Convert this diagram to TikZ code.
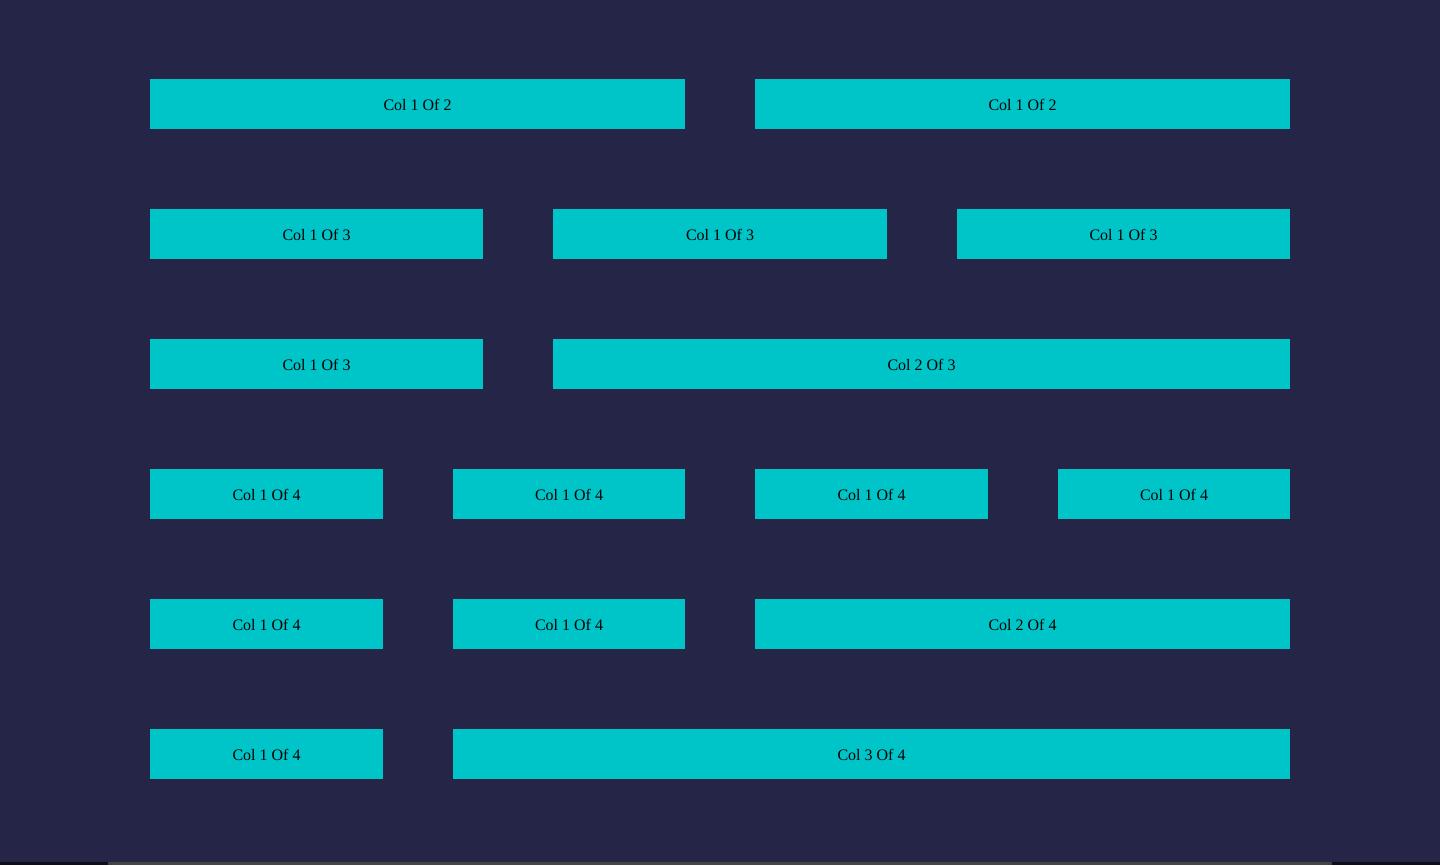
\documentclass[tikz,border=0pt]{standalone}
\usepackage{fontspec}
\setmainfont{Liberation Serif}
\definecolor{bg}{HTML}{252548}
\definecolor{cell}{HTML}{00C5C8}
\definecolor{edgegray}{HTML}{444444}
\definecolor{edgedark}{HTML}{0E0E1C}
\begin{document}
\begin{tikzpicture}[x=1pt,y=-1pt,
  cellbox/.style={fill=none,draw=none,inner sep=0pt,font=\fontsize{16}{19}\selectfont,text=black}]
\fill[bg] (0,0) rectangle (1440,865);
\useasboundingbox (0,0) rectangle (1440,865);
\fill[edgedark] (0,862) rectangle (108,865);
\fill[edgegray] (108,862) rectangle (1332,865);
\fill[edgedark] (1332,862) rectangle (1440,865);
\newcommand{\cellat}[6]{%
  \fill[cell] (#2,#3) rectangle (#4,#5);
  \node[cellbox] (#1) at ({(#2+#4)/2},{(#3+#5)/2+1}) {#6};}
% row 1
\cellat{a1}{150}{79}{685}{129}{Col 1 Of 2}
\cellat{a2}{755}{79}{1290}{129}{Col 1 Of 2}
% row 2
\cellat{b1}{150}{209}{483}{259}{Col 1 Of 3}
\cellat{b2}{553}{209}{887}{259}{Col 1 Of 3}
\cellat{b3}{957}{209}{1290}{259}{Col 1 Of 3}
% row 3
\cellat{c1}{150}{339}{483}{389}{Col 1 Of 3}
\cellat{c2}{553}{339}{1290}{389}{Col 2 Of 3}
% row 4
\cellat{d1}{150}{469}{383}{519}{Col 1 Of 4}
\cellat{d2}{453}{469}{685}{519}{Col 1 Of 4}
\cellat{d3}{755}{469}{988}{519}{Col 1 Of 4}
\cellat{d4}{1058}{469}{1290}{519}{Col 1 Of 4}
% row 5
\cellat{e1}{150}{599}{383}{649}{Col 1 Of 4}
\cellat{e2}{453}{599}{685}{649}{Col 1 Of 4}
\cellat{e3}{755}{599}{1290}{649}{Col 2 Of 4}
% row 6
\cellat{f1}{150}{729}{383}{779}{Col 1 Of 4}
\cellat{f2}{453}{729}{1290}{779}{Col 3 Of 4}
\end{tikzpicture}
\end{document}
